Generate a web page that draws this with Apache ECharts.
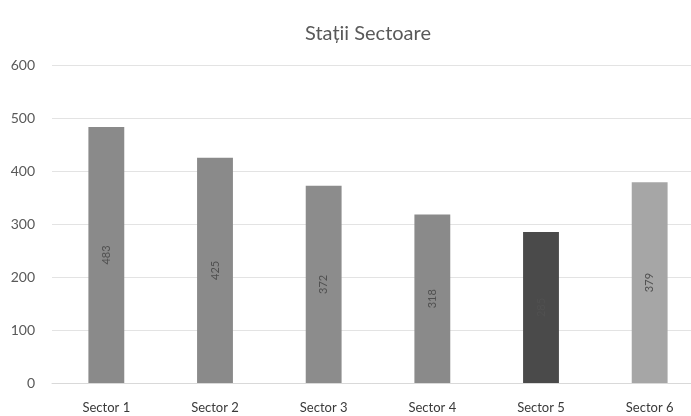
<!DOCTYPE html>
<html>
<head>
<meta charset="utf-8">
<script src="https://cdn.jsdelivr.net/npm/echarts@6/dist/echarts.min.js"></script>
<style>html,body{margin:0;padding:0;background:#fff}#c{width:691px;height:416px}</style>
</head>
<body>
<div id="c"></div>
<script>
const categories = ['Sector 1', 'Sector 2', 'Sector 3', 'Sector 4', 'Sector 5', 'Sector 6'];
const values = [483, 425, 372, 318, 285, 379];
const barColors = ['#8a8a8a', '#8a8a8a', '#8c8c8c', '#8a8a8a', '#4a4a4a', '#a6a6a6'];
const yTicks = [0, 100, 200, 300, 400, 500, 600];

const chart = echarts.init(document.getElementById('c'), null, {renderer: 'canvas'});
chart.setOption({
  animation: false,
  backgroundColor: '#ffffff',
  title: {
    text: 'Stații Sectoare',
    left: 363, top: 19, textAlign: 'center',
    textStyle: {fontFamily: 'Lato', fontSize: 20, fontWeight: 'normal', color: '#595959'}
  },
  grid: {left: 52, width: 652, top: 65, bottom: 33, containLabel: false, outerBoundsMode: 'none'},
  xAxis: {
    type: 'category',
    data: categories,
    axisTick: {show: false},
    axisLine: {lineStyle: {color: '#d9d9d9'}},
    axisLabel: {margin: 18, fontFamily: 'Lato', fontSize: 13, color: '#3a3a3a'}
  },
  yAxis: {
    type: 'value',
    min: yTicks[0], max: yTicks[yTicks.length - 1], interval: 100,
    axisLine: {show: false},
    axisTick: {show: false},
    splitLine: {lineStyle: {color: '#e3e3e3'}},
    axisLabel: {margin: 17, fontFamily: 'Lato', fontSize: 14, color: '#595959'}
  },
  series: [{
    type: 'bar',
    barWidth: '33%',
    data: values.map((v, i) => ({value: v, itemStyle: {color: barColors[i]}})),
    label: {
      show: true, position: 'inside', rotate: 90,
      fontFamily: 'Lato', fontSize: 11, color: '#505050'
    }
  }]
});
</script>
</body>
</html>
